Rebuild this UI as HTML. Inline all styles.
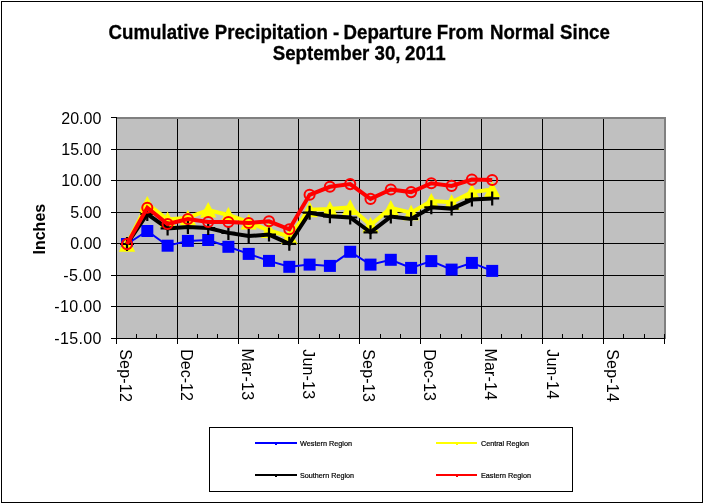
<!DOCTYPE html>
<html><head><meta charset="utf-8"><title>Cumulative Precipitation</title>
<style>
html,body{margin:0;padding:0;background:#fff;}
body{width:704px;height:504px;overflow:hidden;font-family:"Liberation Sans",Arial,sans-serif;}
svg{display:block;}
text{font-family:"Liberation Sans",Arial,sans-serif;fill:#000;}
</style></head><body>
<svg width="704" height="504" viewBox="0 0 704 504">
<rect x="0" y="0" width="704" height="504" fill="#fff"/>
<rect x="1.5" y="1.5" width="701" height="501" fill="#fff" stroke="#000" stroke-width="1" shape-rendering="crispEdges"/>

<text transform="translate(108.5,39) scale(0.9590,1)" font-size="19.5" font-weight="bold" stroke="#000" stroke-width="0.3">Cumulative<tspan dx="0.31"> Precipitation</tspan> -<tspan dx="-1.04"> Departure</tspan><tspan dx="-0.26"> From</tspan><tspan dx="1.3"> Normal</tspan><tspan dx="0.5"> Since</tspan></text>
<text transform="translate(272.7,60) scale(0.9590,1)" font-size="19.5" font-weight="bold" stroke="#000" stroke-width="0.3">September 30,<tspan dx="-0.63"> 2011</tspan></text>
<rect x="117" y="117" width="549" height="222" fill="#808080" shape-rendering="crispEdges"/>
<rect x="117" y="119" width="547" height="219" fill="#c0c0c0" shape-rendering="crispEdges"/>
<g stroke="#000" stroke-width="1" shape-rendering="crispEdges">
<line x1="177.5" y1="119" x2="177.5" y2="338"/>
<line x1="238.5" y1="119" x2="238.5" y2="338"/>
<line x1="298.5" y1="119" x2="298.5" y2="338"/>
<line x1="359.5" y1="119" x2="359.5" y2="338"/>
<line x1="420.5" y1="119" x2="420.5" y2="338"/>
<line x1="481.5" y1="119" x2="481.5" y2="338"/>
<line x1="542.5" y1="119" x2="542.5" y2="338"/>
<line x1="603.5" y1="119" x2="603.5" y2="338"/>
<line x1="117" y1="149.5" x2="664" y2="149.5"/>
<line x1="117" y1="180.5" x2="664" y2="180.5"/>
<line x1="117" y1="212.5" x2="664" y2="212.5"/>
<line x1="117" y1="243.5" x2="664" y2="243.5"/>
<line x1="117" y1="275.5" x2="664" y2="275.5"/>
<line x1="117" y1="306.5" x2="664" y2="306.5"/>
<line x1="116.5" y1="117" x2="116.5" y2="339"/>
<line x1="111" y1="338.5" x2="665" y2="338.5"/>
<line x1="111" y1="117.5" x2="117" y2="117.5"/>
<line x1="111" y1="149.5" x2="117" y2="149.5"/>
<line x1="111" y1="180.5" x2="117" y2="180.5"/>
<line x1="111" y1="212.5" x2="117" y2="212.5"/>
<line x1="111" y1="243.5" x2="117" y2="243.5"/>
<line x1="111" y1="275.5" x2="117" y2="275.5"/>
<line x1="111" y1="306.5" x2="117" y2="306.5"/>
<line x1="116.5" y1="338" x2="116.5" y2="344"/>
<line x1="136.5" y1="334" x2="136.5" y2="338"/>
<line x1="156.5" y1="334" x2="156.5" y2="338"/>
<line x1="177.5" y1="338" x2="177.5" y2="344"/>
<line x1="197.5" y1="334" x2="197.5" y2="338"/>
<line x1="217.5" y1="334" x2="217.5" y2="338"/>
<line x1="238.5" y1="338" x2="238.5" y2="344"/>
<line x1="258.5" y1="334" x2="258.5" y2="338"/>
<line x1="278.5" y1="334" x2="278.5" y2="338"/>
<line x1="298.5" y1="338" x2="298.5" y2="344"/>
<line x1="319.5" y1="334" x2="319.5" y2="338"/>
<line x1="339.5" y1="334" x2="339.5" y2="338"/>
<line x1="359.5" y1="338" x2="359.5" y2="344"/>
<line x1="380.5" y1="334" x2="380.5" y2="338"/>
<line x1="400.5" y1="334" x2="400.5" y2="338"/>
<line x1="420.5" y1="338" x2="420.5" y2="344"/>
<line x1="440.5" y1="334" x2="440.5" y2="338"/>
<line x1="461.5" y1="334" x2="461.5" y2="338"/>
<line x1="481.5" y1="338" x2="481.5" y2="344"/>
<line x1="501.5" y1="334" x2="501.5" y2="338"/>
<line x1="521.5" y1="334" x2="521.5" y2="338"/>
<line x1="542.5" y1="338" x2="542.5" y2="344"/>
<line x1="562.5" y1="334" x2="562.5" y2="338"/>
<line x1="582.5" y1="334" x2="582.5" y2="338"/>
<line x1="603.5" y1="338" x2="603.5" y2="344"/>
<line x1="623.5" y1="334" x2="623.5" y2="338"/>
<line x1="644.5" y1="334" x2="644.5" y2="338"/>
<line x1="664.5" y1="338" x2="664.5" y2="344"/>
<line x1="664.5" y1="334" x2="664.5" y2="338"/>
</g>
<text x="101.3" y="123.5" text-anchor="end" font-size="16">20.00</text>
<text x="101.3" y="154.9" text-anchor="end" font-size="16">15.00</text>
<text x="101.3" y="185.9" text-anchor="end" font-size="16">10.00</text>
<text x="101.3" y="217.9" text-anchor="end" font-size="16">5.00</text>
<text x="101.3" y="248.9" text-anchor="end" font-size="16">0.00</text>
<text x="101.3" y="280.9" text-anchor="end" font-size="16" textLength="38.1" lengthAdjust="spacing">-5.00</text>
<text x="101.3" y="311.9" text-anchor="end" font-size="16" textLength="47.0" lengthAdjust="spacing">-10.00</text>
<text x="101.3" y="343.9" text-anchor="end" font-size="16" textLength="47.0" lengthAdjust="spacing">-15.00</text>
<text transform="translate(120.0,349.2) rotate(90)" font-size="16" textLength="52.6" lengthAdjust="spacing">Sep-12</text>
<text transform="translate(181.0,349.2) rotate(90)" font-size="16" textLength="51.6" lengthAdjust="spacing">Dec-12</text>
<text transform="translate(242.0,348.4) rotate(90)" font-size="16" textLength="51.7" lengthAdjust="spacing">Mar-13</text>
<text transform="translate(302.5,349.2) rotate(90)" font-size="16" textLength="49.9" lengthAdjust="spacing">Jun-13</text>
<text transform="translate(363.0,349.2) rotate(90)" font-size="16" textLength="52.6" lengthAdjust="spacing">Sep-13</text>
<text transform="translate(424.0,349.2) rotate(90)" font-size="16" textLength="51.6" lengthAdjust="spacing">Dec-13</text>
<text transform="translate(485.0,348.4) rotate(90)" font-size="16" textLength="51.7" lengthAdjust="spacing">Mar-14</text>
<text transform="translate(546.5,349.2) rotate(90)" font-size="16" textLength="49.9" lengthAdjust="spacing">Jun-14</text>
<text transform="translate(607.0,349.2) rotate(90)" font-size="16" textLength="52.6" lengthAdjust="spacing">Sep-14</text>
<text transform="translate(45,254.5) rotate(-90)" font-size="16" font-weight="bold">Inches</text>
<polyline points="127.0,244.0 147.3,231.0 167.6,245.7 187.9,240.9 208.2,240.0 228.4,246.8 248.7,253.9 269.0,260.9 289.3,266.8 309.6,264.6 329.9,265.9 350.2,251.8 370.5,264.6 390.8,259.8 411.1,267.9 431.3,261.1 451.6,269.6 471.9,262.9 492.2,270.9" fill="none" stroke="#0000ff" stroke-width="2" stroke-linejoin="miter"/>
<rect x="121.0" y="238.0" width="12" height="12" fill="#0000ff"/>
<rect x="141.3" y="225.0" width="12" height="12" fill="#0000ff"/>
<rect x="161.6" y="239.7" width="12" height="12" fill="#0000ff"/>
<rect x="181.9" y="234.9" width="12" height="12" fill="#0000ff"/>
<rect x="202.2" y="234.0" width="12" height="12" fill="#0000ff"/>
<rect x="222.4" y="240.8" width="12" height="12" fill="#0000ff"/>
<rect x="242.7" y="247.9" width="12" height="12" fill="#0000ff"/>
<rect x="263.0" y="254.9" width="12" height="12" fill="#0000ff"/>
<rect x="283.3" y="260.8" width="12" height="12" fill="#0000ff"/>
<rect x="303.6" y="258.6" width="12" height="12" fill="#0000ff"/>
<rect x="323.9" y="259.9" width="12" height="12" fill="#0000ff"/>
<rect x="344.2" y="245.8" width="12" height="12" fill="#0000ff"/>
<rect x="364.5" y="258.6" width="12" height="12" fill="#0000ff"/>
<rect x="384.8" y="253.8" width="12" height="12" fill="#0000ff"/>
<rect x="405.1" y="261.9" width="12" height="12" fill="#0000ff"/>
<rect x="425.3" y="255.1" width="12" height="12" fill="#0000ff"/>
<rect x="445.6" y="263.6" width="12" height="12" fill="#0000ff"/>
<rect x="465.9" y="256.9" width="12" height="12" fill="#0000ff"/>
<rect x="486.2" y="264.9" width="12" height="12" fill="#0000ff"/>
<polyline points="127.0,244.1 147.3,203.9 167.6,219.5 187.9,217.7 208.2,210.0 228.4,215.0 248.7,222.0 269.0,230.5 289.3,236.4 309.6,209.6 329.9,209.0 350.2,207.3 370.5,225.0 390.8,208.0 411.1,212.7 431.3,201.0 451.6,202.3 471.9,192.1 492.2,189.5" fill="none" stroke="#ffff00" stroke-width="4" stroke-linejoin="miter"/>
<polygon points="127.0,236.1 135.2,251.7 118.8,251.7" fill="#ffff00"/>
<polygon points="147.3,195.9 155.5,211.5 139.1,211.5" fill="#ffff00"/>
<polygon points="167.6,211.5 175.8,227.1 159.4,227.1" fill="#ffff00"/>
<polygon points="187.9,209.7 196.1,225.3 179.7,225.3" fill="#ffff00"/>
<polygon points="208.2,202.0 216.4,217.6 200.0,217.6" fill="#ffff00"/>
<polygon points="228.4,207.0 236.6,222.6 220.2,222.6" fill="#ffff00"/>
<polygon points="248.7,214.0 256.9,229.6 240.5,229.6" fill="#ffff00"/>
<polygon points="269.0,222.5 277.2,238.1 260.8,238.1" fill="#ffff00"/>
<polygon points="289.3,228.4 297.5,244.0 281.1,244.0" fill="#ffff00"/>
<polygon points="309.6,201.6 317.8,217.2 301.4,217.2" fill="#ffff00"/>
<polygon points="329.9,201.0 338.1,216.6 321.7,216.6" fill="#ffff00"/>
<polygon points="350.2,199.3 358.4,214.9 342.0,214.9" fill="#ffff00"/>
<polygon points="370.5,217.0 378.7,232.6 362.3,232.6" fill="#ffff00"/>
<polygon points="390.8,200.0 399.0,215.6 382.6,215.6" fill="#ffff00"/>
<polygon points="411.1,204.7 419.3,220.3 402.9,220.3" fill="#ffff00"/>
<polygon points="431.3,193.0 439.5,208.6 423.1,208.6" fill="#ffff00"/>
<polygon points="451.6,194.3 459.8,209.9 443.4,209.9" fill="#ffff00"/>
<polygon points="471.9,184.1 480.1,199.7 463.7,199.7" fill="#ffff00"/>
<polygon points="492.2,181.5 500.4,197.1 484.0,197.1" fill="#ffff00"/>
<polyline points="127.0,244.0 147.3,214.0 167.6,228.4 187.9,227.0 208.2,228.0 228.4,232.9 248.7,236.0 269.0,234.6 289.3,243.8 309.6,212.7 329.9,216.3 350.2,217.5 370.5,232.3 390.8,216.6 411.1,218.9 431.3,207.3 451.6,208.6 471.9,199.6 492.2,198.4" fill="none" stroke="#000" stroke-width="4" stroke-linejoin="miter"/>
<path d="M127.0,237.0V251.0M120.0,244.0H134.0" stroke="#000" stroke-width="2.2" fill="none"/>
<path d="M147.3,207.0V221.0M140.3,214.0H154.3" stroke="#000" stroke-width="2.2" fill="none"/>
<path d="M167.6,221.4V235.4M160.6,228.4H174.6" stroke="#000" stroke-width="2.2" fill="none"/>
<path d="M187.9,220.0V234.0M180.9,227.0H194.9" stroke="#000" stroke-width="2.2" fill="none"/>
<path d="M208.2,221.0V235.0M201.2,228.0H215.2" stroke="#000" stroke-width="2.2" fill="none"/>
<path d="M228.4,225.9V239.9M221.4,232.9H235.4" stroke="#000" stroke-width="2.2" fill="none"/>
<path d="M248.7,229.0V243.0M241.7,236.0H255.7" stroke="#000" stroke-width="2.2" fill="none"/>
<path d="M269.0,227.6V241.6M262.0,234.6H276.0" stroke="#000" stroke-width="2.2" fill="none"/>
<path d="M289.3,236.8V250.8M282.3,243.8H296.3" stroke="#000" stroke-width="2.2" fill="none"/>
<path d="M309.6,205.7V219.7M302.6,212.7H316.6" stroke="#000" stroke-width="2.2" fill="none"/>
<path d="M329.9,209.3V223.3M322.9,216.3H336.9" stroke="#000" stroke-width="2.2" fill="none"/>
<path d="M350.2,210.5V224.5M343.2,217.5H357.2" stroke="#000" stroke-width="2.2" fill="none"/>
<path d="M370.5,225.3V239.3M363.5,232.3H377.5" stroke="#000" stroke-width="2.2" fill="none"/>
<path d="M390.8,209.6V223.6M383.8,216.6H397.8" stroke="#000" stroke-width="2.2" fill="none"/>
<path d="M411.1,211.9V225.9M404.1,218.9H418.1" stroke="#000" stroke-width="2.2" fill="none"/>
<path d="M431.3,200.3V214.3M424.3,207.3H438.3" stroke="#000" stroke-width="2.2" fill="none"/>
<path d="M451.6,201.6V215.6M444.6,208.6H458.6" stroke="#000" stroke-width="2.2" fill="none"/>
<path d="M471.9,192.6V206.6M464.9,199.6H478.9" stroke="#000" stroke-width="2.2" fill="none"/>
<path d="M492.2,191.4V205.4M485.2,198.4H499.2" stroke="#000" stroke-width="2.2" fill="none"/>
<polyline points="127.0,244.1 147.3,207.7 167.6,224.0 187.9,219.0 208.2,222.0 228.4,222.0 248.7,223.0 269.0,221.3 289.3,229.3 309.6,194.8 329.9,186.8 350.2,184.1 370.5,198.9 390.8,189.5 411.1,192.1 431.3,183.2 451.6,185.9 471.9,179.6 492.2,180.0" fill="none" stroke="#ff0000" stroke-width="4" stroke-linejoin="miter"/>
<circle cx="127.0" cy="244.1" r="5.05" fill="none" stroke="#ff0000" stroke-width="2"/>
<circle cx="147.3" cy="207.7" r="5.05" fill="none" stroke="#ff0000" stroke-width="2"/>
<circle cx="167.6" cy="224.0" r="5.05" fill="none" stroke="#ff0000" stroke-width="2"/>
<circle cx="187.9" cy="219.0" r="5.05" fill="none" stroke="#ff0000" stroke-width="2"/>
<circle cx="208.2" cy="222.0" r="5.05" fill="none" stroke="#ff0000" stroke-width="2"/>
<circle cx="228.4" cy="222.0" r="5.05" fill="none" stroke="#ff0000" stroke-width="2"/>
<circle cx="248.7" cy="223.0" r="5.05" fill="none" stroke="#ff0000" stroke-width="2"/>
<circle cx="269.0" cy="221.3" r="5.05" fill="none" stroke="#ff0000" stroke-width="2"/>
<circle cx="289.3" cy="229.3" r="5.05" fill="none" stroke="#ff0000" stroke-width="2"/>
<circle cx="309.6" cy="194.8" r="5.05" fill="none" stroke="#ff0000" stroke-width="2"/>
<circle cx="329.9" cy="186.8" r="5.05" fill="none" stroke="#ff0000" stroke-width="2"/>
<circle cx="350.2" cy="184.1" r="5.05" fill="none" stroke="#ff0000" stroke-width="2"/>
<circle cx="370.5" cy="198.9" r="5.05" fill="none" stroke="#ff0000" stroke-width="2"/>
<circle cx="390.8" cy="189.5" r="5.05" fill="none" stroke="#ff0000" stroke-width="2"/>
<circle cx="411.1" cy="192.1" r="5.05" fill="none" stroke="#ff0000" stroke-width="2"/>
<circle cx="431.3" cy="183.2" r="5.05" fill="none" stroke="#ff0000" stroke-width="2"/>
<circle cx="451.6" cy="185.9" r="5.05" fill="none" stroke="#ff0000" stroke-width="2"/>
<circle cx="471.9" cy="179.6" r="5.05" fill="none" stroke="#ff0000" stroke-width="2"/>
<circle cx="492.2" cy="180.0" r="5.05" fill="none" stroke="#ff0000" stroke-width="2"/>
<rect x="209.5" y="427.5" width="363" height="64" fill="#fff" stroke="#000" stroke-width="1" shape-rendering="crispEdges"/>
<line x1="255" y1="443" x2="297" y2="443" stroke="#0000ff" stroke-width="2" shape-rendering="crispEdges"/>
<rect x="275.0" y="443" width="2" height="2" fill="#0000ff" shape-rendering="crispEdges"/>
<text x="300" y="446" font-size="7.3" stroke="#000" stroke-width="0.2" textLength="52" lengthAdjust="spacingAndGlyphs">Western Region</text>
<line x1="255" y1="475" x2="297" y2="475" stroke="#000" stroke-width="2" shape-rendering="crispEdges"/>
<rect x="275.0" y="475" width="2" height="2" fill="#000" shape-rendering="crispEdges"/>
<text x="300" y="478" font-size="7.3" stroke="#000" stroke-width="0.2" textLength="54" lengthAdjust="spacingAndGlyphs">Southern Region</text>
<line x1="436" y1="443" x2="477" y2="443" stroke="#ffff00" stroke-width="2" shape-rendering="crispEdges"/>
<rect x="455.5" y="443" width="2" height="2" fill="#ffff00" shape-rendering="crispEdges"/>
<text x="481" y="446" font-size="7.3" stroke="#000" stroke-width="0.2" textLength="48" lengthAdjust="spacingAndGlyphs">Central Region</text>
<line x1="436" y1="475" x2="477" y2="475" stroke="#ff0000" stroke-width="2" shape-rendering="crispEdges"/>
<rect x="455.5" y="475" width="2" height="2" fill="#ff0000" shape-rendering="crispEdges"/>
<text x="481" y="478" font-size="7.3" stroke="#000" stroke-width="0.2" textLength="50" lengthAdjust="spacingAndGlyphs">Eastern Region</text>
</svg></body></html>
